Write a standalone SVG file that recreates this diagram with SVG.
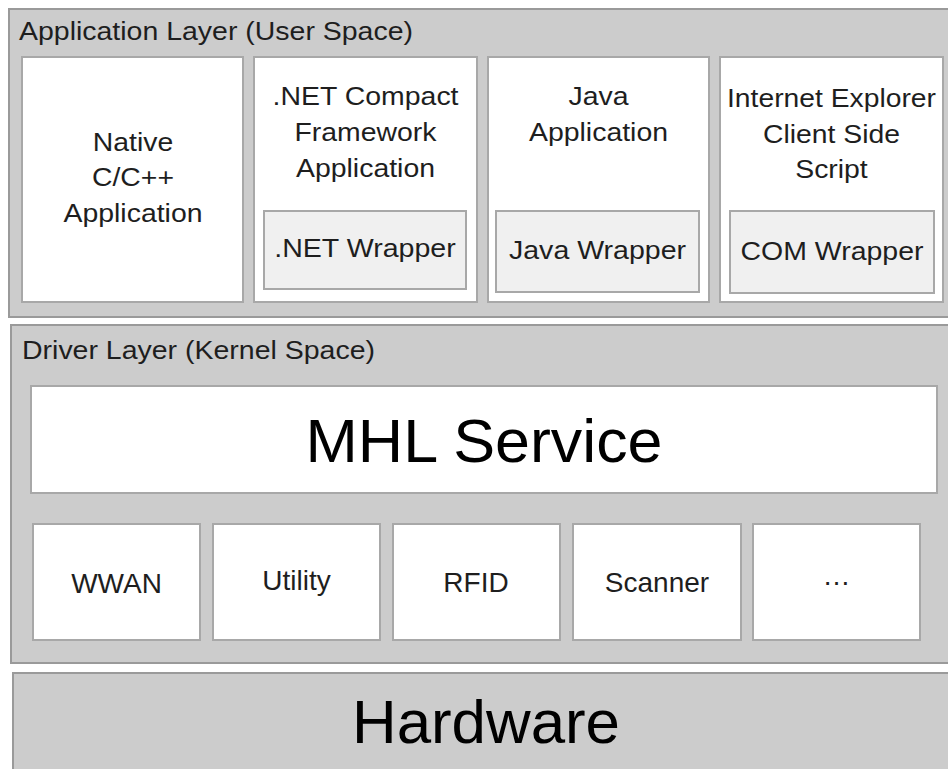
<svg xmlns="http://www.w3.org/2000/svg" width="948" height="769" viewBox="0 0 948 769">
  <style>
    .layer { fill: #cccccc; stroke: #9a9a9a; stroke-width: 2; }
    .box { fill: #ffffff; stroke: #a8a8a8; stroke-width: 2; }
    .wrap { fill: #f0f0f0; stroke: #a8a8a8; stroke-width: 2; }
    text { font-family: "Liberation Sans", Arial, sans-serif; fill: #1e1e1e; }
    .title { font-size: 26.5px; }
    .lbl { font-size: 26px; text-anchor: middle; }
    .drv { font-size: 28px; text-anchor: middle; }
    .big { font-size: 61px; text-anchor: middle; fill: #000000; }
  </style>

  <!-- Background -->
  <rect x="0" y="0" width="948" height="769" fill="#ffffff"/>

  <!-- Application layer -->
  <g id="application-layer">
    <rect class="layer" x="9" y="9" width="950" height="308"/>
    <text class="title" x="19" y="39.5" textLength="394" lengthAdjust="spacingAndGlyphs">Application Layer (User Space)</text>
  </g>

  <g id="native-app">
    <rect class="box" x="22" y="57" width="221" height="245"/>
    <text class="lbl" x="133" y="151" textLength="80.5" lengthAdjust="spacingAndGlyphs">Native</text>
    <text class="lbl" x="133" y="186" textLength="82" lengthAdjust="spacingAndGlyphs">C/C++</text>
    <text class="lbl" x="133" y="222" textLength="139" lengthAdjust="spacingAndGlyphs">Application</text>
  </g>

  <g id="netcf-app">
    <rect class="box" x="254" y="57" width="223" height="245"/>
    <text class="lbl" x="365.5" y="105" textLength="186" lengthAdjust="spacingAndGlyphs">.NET Compact</text>
    <text class="lbl" x="365.5" y="141" textLength="142" lengthAdjust="spacingAndGlyphs">Framework</text>
    <text class="lbl" x="365.5" y="177" textLength="139" lengthAdjust="spacingAndGlyphs">Application</text>
    <g id="net-wrapper">
      <rect class="wrap" x="264" y="211" width="202" height="78"/>
      <text class="lbl" x="365" y="257" textLength="181.5" lengthAdjust="spacingAndGlyphs">.NET Wrapper</text>
    </g>
  </g>

  <g id="java-app">
    <rect class="box" x="488" y="57" width="221" height="245"/>
    <text class="lbl" x="598.5" y="105" textLength="60" lengthAdjust="spacingAndGlyphs">Java</text>
    <text class="lbl" x="598.5" y="141" textLength="139" lengthAdjust="spacingAndGlyphs">Application</text>
    <g id="java-wrapper">
      <rect class="wrap" x="496" y="211" width="203" height="81"/>
      <text class="lbl" x="597.5" y="259" textLength="177" lengthAdjust="spacingAndGlyphs">Java Wrapper</text>
    </g>
  </g>

  <g id="ie-script">
    <rect class="box" x="720" y="57" width="223" height="245"/>
    <text class="lbl" x="831.5" y="107" textLength="209" lengthAdjust="spacingAndGlyphs">Internet Explorer</text>
    <text class="lbl" x="831.5" y="143" textLength="137" lengthAdjust="spacingAndGlyphs">Client Side</text>
    <text class="lbl" x="831.5" y="178" textLength="72.5" lengthAdjust="spacingAndGlyphs">Script</text>
    <g id="com-wrapper">
      <rect class="wrap" x="730" y="211" width="204" height="82"/>
      <text class="lbl" x="832" y="260" textLength="183" lengthAdjust="spacingAndGlyphs">COM Wrapper</text>
    </g>
  </g>

  <!-- Driver layer -->
  <g id="driver-layer">
    <rect class="layer" x="11" y="325" width="950" height="338"/>
    <text class="title" x="22" y="359" textLength="353" lengthAdjust="spacingAndGlyphs">Driver Layer (Kernel Space)</text>
  </g>

  <g id="mhl-service">
    <rect class="box" x="31" y="386" width="906" height="107"/>
    <text class="big" x="484" y="462" textLength="357" lengthAdjust="spacingAndGlyphs">MHL Service</text>
  </g>

  <g id="wwan">
    <rect class="box" x="33" y="524" width="167" height="116"/>
    <text class="drv" x="116.5" y="592.5">WWAN</text>
  </g>
  <g id="utility">
    <rect class="box" x="213" y="524" width="167" height="116"/>
    <text class="drv" x="296.5" y="590">Utility</text>
  </g>
  <g id="rfid">
    <rect class="box" x="393" y="524" width="167" height="116"/>
    <text class="drv" x="476" y="592">RFID</text>
  </g>
  <g id="scanner">
    <rect class="box" x="573" y="524" width="168" height="116"/>
    <text class="drv" x="657" y="592">Scanner</text>
  </g>
  <g id="more-drivers">
    <rect class="box" x="753" y="524" width="167" height="116"/>
    <text class="drv" x="836.5" y="585">…</text>
  </g>

  <!-- Hardware -->
  <g id="hardware">
    <rect class="layer" x="13" y="673" width="950" height="110"/>
    <text class="big" x="486" y="743" textLength="268" lengthAdjust="spacingAndGlyphs">Hardware</text>
  </g>
</svg>
